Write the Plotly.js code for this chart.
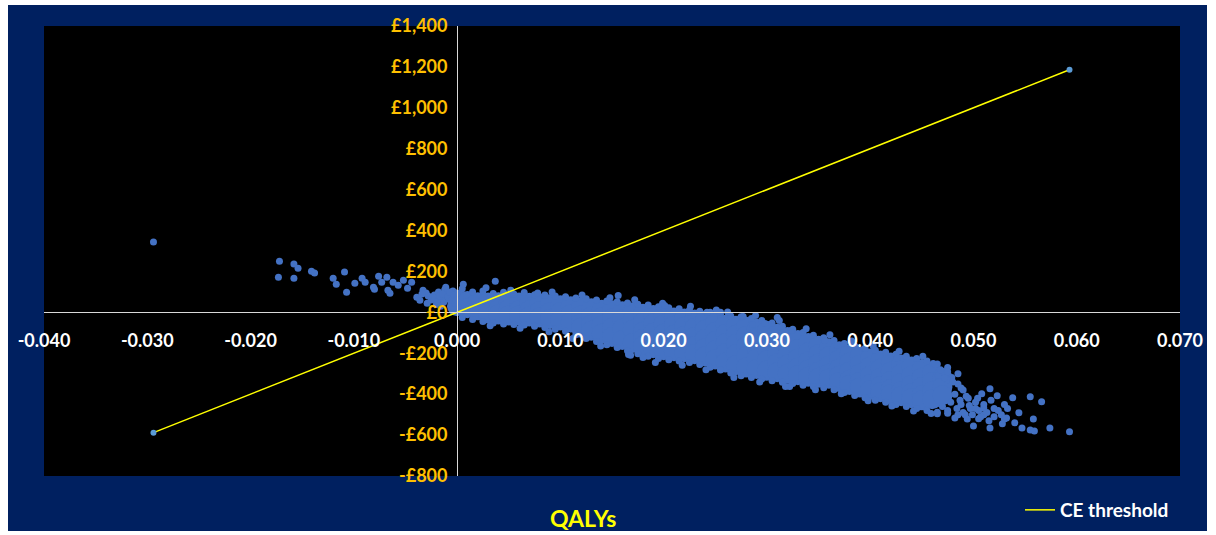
<!DOCTYPE html>
<html>
<head>
<meta charset="utf-8">
<script src="https://cdn.plot.ly/plotly-3.0.1.min.js"></script>
<style>html,body{margin:0;padding:0;background:#fff;}#chart{width:1216px;height:535px;}</style>
</head>
<body>
<div id="chart"></div>
<script>
// ---- Data ----
const xTickValues = [-0.04, -0.03, -0.02, -0.01, 0, 0.01, 0.02, 0.03, 0.04, 0.05, 0.06, 0.07];
const xTickLabels = ['-0.040', '-0.030', '-0.020', '-0.010', '0.000', '0.010', '0.020', '0.030', '0.040', '0.050', '0.060', '0.070'];
const yTickValues = [-800, -600, -400, -200, 0, 200, 400, 600, 800, 1000, 1200, 1400];
const yTickLabels = ['-£800', '-£600', '-£400', '-£200', '£0', '£200', '£400', '£600', '£800', '£1,000', '£1,200', '£1,400'];

// dense core of the simulation cloud: QALY column and cost values in it
const coreColumnQaly = [0.000,0.001,0.002,0.003,0.004,0.005,0.006,0.007,0.008,0.009,0.010,0.011,0.012,0.013,0.014,0.015,0.016,0.017,0.018,0.019,0.020,0.021,0.022,0.023,0.024,0.025,0.026,0.027,0.028,0.029,0.030,0.031,0.032,0.033,0.034,0.035,0.036,0.037,0.038,0.039,0.040,0.041,0.042,0.043,0.044,0.045,0.046,0.047];
const coreColumnCosts = [
  [60,30],[55,20],[50,10],[48,10,-5],[50,15,-10],[50,15,-15],[48,10,-15],[47,10,-20],[43,5,-25],[40,0,-33],
  [35,0,-40],[30,-10,-50],[25,-15,-55,-75],[20,-20,-60,-90],[13,-25,-65,-105],[10,-30,-75,-120],[5,-35,-80,-135],[0,-40,-85,-150],
  [-7,-50,-95,-130,-165],[-13,-55,-100,-140,-175],[-20,-60,-105,-145,-185],[-25,-65,-110,-150,-190],[-30,-70,-115,-155,-195],
  [-35,-75,-120,-165,-205],[-40,-85,-130,-175,-215],[-50,-95,-140,-185,-230],[-60,-105,-150,-200,-245],[-65,-110,-155,-205,-258],
  [-70,-115,-165,-215,-270],[-80,-125,-175,-225,-277],[-90,-135,-185,-235,-285],[-105,-150,-200,-250,-293],[-120,-165,-210,-255,-300],
  [-135,-180,-225,-270,-307],[-150,-195,-240,-280,-315],[-163,-205,-250,-290,-320],[-175,-215,-260,-300,-325],[-190,-230,-275,-310,-340],
  [-205,-245,-290,-330,-355],[-215,-255,-300,-340,-367],[-225,-265,-310,-350,-380],[-235,-275,-320,-360,-390],[-245,-290,-335,-375,-400],
  [-255,-300,-345,-385,-410],[-265,-310,-355,-395,-420],[-277,-320,-365,-405,-430],[-295,-340,-385,-425],[-320,-365,-405]
];

// upper and lower fringe of the cloud
const topEdgeQaly = [0.0005,0.0015,0.0025,0.0035,0.0045,0.0055,0.0065,0.0075,0.0085,0.0095,0.0105,0.0115,0.0125,0.0135,0.0145,0.0155,0.0165,0.0175,0.0185,0.0195,0.0205,0.0215,0.0225,0.0235,0.0245,0.0255,0.0265,0.0275,0.0285,0.0295,0.0305,0.0315,0.0325,0.0335,0.0345,0.0355,0.0365,0.0375,0.0385,0.0395,0.0405,0.0415,0.0425,0.0435,0.0445,0.0455,0.0465,0.0475,
  0.0028,0.0052,0.0078,0.0092,0.0121,0.0148,0.0172,0.0199,0.0226,0.0251,0.0262,0.0289,0.0312,0.0338,0.0361,0.0382,0.0403,0.0428,0.0451];
const topEdgeCost = [115,100,105,92,98,90,97,86,85,80,76,70,66,60,56,52,46,40,36,28,22,18,12,5,0,-10,-18,-22,-30,-40,-52,-68,-82,-98,-112,-124,-138,-152,-165,-175,-185,-195,-205,-215,-226,-238,-252,-270,
  120,108,95,100,85,72,62,45,30,12,2,-15,-40,-80,-110,-140,-165,-190,-215];
const bottomEdgeQaly = [0.0005,0.0015,0.0025,0.0035,0.0045,0.0055,0.0065,0.0075,0.0085,0.0095,0.0105,0.0115,0.0125,0.0135,0.0145,0.0155,0.0165,0.0175,0.0185,0.0195,0.0205,0.0215,0.0225,0.0235,0.0245,0.0255,0.0265,0.0275,0.0285,0.0295,0.0305,0.0315,0.0325,0.0335,0.0345,0.0355,0.0365,0.0375,0.0385,0.0395,0.0405,0.0415,0.0425,0.0435,0.0445,0.0455,0.0465,0.0475,0.0485,
  0.0032,0.0061,0.0089,0.0112,0.0139,0.0168,0.0192,0.0218,0.0241,0.0268,0.0293,0.0322,0.0347,0.0372,0.0398,0.0421,0.0442,0.0459];
const bottomEdgeCost = [-25,-35,-45,-52,-57,-59,-62,-68,-74,-82,-92,-110,-128,-142,-158,-172,-188,-202,-215,-225,-232,-238,-245,-255,-268,-282,-297,-310,-318,-326,-334,-342,-348,-356,-362,-368,-378,-392,-406,-418,-430,-440,-450,-460,-470,-480,-488,-493,-500,
  -65,-78,-95,-128,-165,-210,-245,-258,-280,-318,-340,-362,-378,-398,-432,-458,-482,-495];

// sparse points: left tail and points near the origin
const tailQaly = [-0.0294,-0.0172,-0.0173,-0.0158,-0.0154,-0.0158,-0.0141,-0.0138,-0.0120,-0.0117,-0.0109,-0.0107,-0.0099,-0.0092,-0.0089,-0.0081,-0.0080,-0.0076,-0.0073,-0.0068,-0.0067,-0.0065,-0.0062,-0.0057,-0.0052,-0.0048,-0.0044,-0.0039,-0.0036,-0.0033,-0.0029,-0.0025,-0.0022,-0.0020,-0.0018,-0.0016,-0.0015,-0.0013,-0.0012,-0.0011,-0.0010,-0.0008,-0.0006,-0.0004,-0.0002,-0.0002,0.0000,0.0003,0.0006,0.0037,-0.0023,-0.0019,-0.0017,-0.0014,-0.0009,-0.0007,-0.0005,-0.0003,-0.0001,-0.0028,-0.0030,-0.0034];
const tailCost = [344,250,172,236,216,167,201,192,167,138,197,98,142,167,147,123,113,177,147,172,108,93,147,133,157,118,147,74,59,108,44,60,85,40,100,30,70,50,110,123,95,65,30,105,80,45,95,20,138,152,70,55,80,90,75,100,60,85,60,80,95,90];

// sparse points scattered round the main cloud and its right tail
const strayQaly = [0.0156,0.0201,0.0180,0.0166,0.0277,0.0286,0.0298,0.0310,0.0324,0.0318,0.0356,0.0224,0.0242,0.0255,0.0085,0.0368,0.0461,0.0426,0.0466,0.0463,0.0479,0.0475,0.0485,0.0490,0.0495,0.0488,0.0497,0.0502,0.0505,0.0510,0.0492,0.0505,0.0515,0.0520,0.0527,0.0530,0.0485,0.0475,0.0508,0.0516,0.0523,0.0538,0.0555,0.0566,0.0516,0.0500,0.0532,0.0540,0.0547,0.0555,0.0559,0.0558,0.0544,0.0574,0.0593,0.0465,0.0482,0.0494,0.0510,0.0530,
  0.0470,0.0475,0.0478,0.0482,0.0484,0.0487,0.0490,0.0493,0.0496,0.0499,0.0502,0.0504,0.0507,0.0510,0.0513,0.0517,0.0520,0.0524,0.0528,0.0533,0.0480,0.0472,0.0488,0.0468];
const strayCost = [83,34,-221,-206,-20,-59,-54,-25,-88,-363,-138,0,0,0,83,-162,-250,-226,-309,-255,-319,-330,-350,-380,-420,-450,-470,-440,-480,-500,-500,-520,-530,-470,-500,-450,-300,-290,-398,-373,-408,-417,-413,-437,-565,-555,-516,-540,-565,-575,-580,-521,-491,-565,-584,-496,-516,-521,-467,-521,
  -460,-480,-440,-400,-470,-430,-490,-410,-455,-500,-470,-420,-510,-450,-490,-430,-510,-480,-545,-470,-340,-320,-370,-280];

// CE threshold line (£20,000 per QALY) drawn across the range of the cloud
const thresholdQaly = [-0.0294, 0.0593];
const thresholdCost = [-588, 1186];

// ---- build traces ----
const coreX = [], coreY = [];
coreColumnQaly.forEach((q, i) => coreColumnCosts[i].forEach(c => { coreX.push(q); coreY.push(c); }));

const cloudColor = '#4472C4';
const traces = [
  {x: coreX, y: coreY, type: 'scatter', mode: 'markers', showlegend: false, hoverinfo: 'skip',
   marker: {size: 20, color: cloudColor}},
  {x: topEdgeQaly.concat(bottomEdgeQaly), y: topEdgeCost.concat(bottomEdgeCost), type: 'scatter', mode: 'markers', showlegend: false,
   marker: {size: 7, color: cloudColor}},
  {x: tailQaly.concat(strayQaly), y: tailCost.concat(strayCost), type: 'scatter', mode: 'markers', showlegend: false,
   marker: {size: 7, color: cloudColor}},
  {x: thresholdQaly, y: thresholdCost, type: 'scatter', mode: 'lines', name: 'CE threshold',
   line: {color: '#FFFF00', width: 1.5}},
  {x: thresholdQaly, y: thresholdCost, type: 'scatter', mode: 'markers', showlegend: false,
   marker: {size: 6, color: '#5B9BD5'}}
];

const F = 'Lato, "Open Sans", sans-serif';
const navy = '#002060';
const layout = {
  width: 1216, height: 535,
  margin: {l: 44, r: 36, t: 26, b: 59, autoexpand: false},
  paper_bgcolor: navy,
  plot_bgcolor: '#000000',
  font: {family: F},
  xaxis: {
    range: [-0.04, 0.07], anchor: 'free', position: 800/2200,
    tickvals: xTickValues, ticktext: xTickLabels,
    tickfont: {color: '#FFFFFF', size: 18, family: F, weight: 'bold'},
    showgrid: false, zeroline: false, showline: true, linecolor: '#D9D9D9', linewidth: 1,
    ticks: '', ticklabelstandoff: 12
  },
  yaxis: {
    range: [-800, 1400], anchor: 'free', position: 0.04/0.11,
    tickvals: yTickValues, ticktext: yTickLabels,
    tickfont: {color: '#FFC000', size: 18, family: F, weight: 'bold'},
    showgrid: false, zeroline: false, showline: true, linecolor: '#D9D9D9', linewidth: 1,
    ticks: '', ticklabelstandoff: 6
  },
  showlegend: true,
  legend: {xref: 'container', yref: 'container', x: 1020/1216, xanchor: 'left', y: 1 - 510/535, yanchor: 'middle',
           bgcolor: 'rgba(0,0,0,0)', font: {color: '#FFFFFF', size: 19, family: F, weight: 'bold'}},
  annotations: [
    {text: 'QALYs', xref: 'paper', yref: 'paper', x: (583-44)/1136, y: (476-518)/450, xanchor: 'center', yanchor: 'middle',
     showarrow: false, font: {color: '#FFFF00', size: 23, family: F, weight: 'bold'}}
  ],
  shapes: [
    {type: 'rect', xref: 'paper', yref: 'paper', x0: -0.1, x1: 1.1, y0: (476-5)/450, y1: 1.2, fillcolor: '#FFFFFF', line: {width: 0}},
    {type: 'rect', xref: 'paper', yref: 'paper', x0: -0.1, x1: (8-44)/1136, y0: -0.3, y1: 1.2, fillcolor: '#FFFFFF', line: {width: 0}},
    {type: 'rect', xref: 'paper', yref: 'paper', x0: (1207-44)/1136, x1: 1.1, y0: -0.3, y1: 1.2, fillcolor: '#FFFFFF', line: {width: 0}},
    {type: 'rect', xref: 'paper', yref: 'paper', x0: -0.1, x1: 1.1, y0: -0.3, y1: (476-531)/450, fillcolor: '#FFFFFF', line: {width: 0}}
  ]
};

Plotly.newPlot('chart', traces, layout, {displayModeBar: false, staticPlot: true});
</script>
</body>
</html>
